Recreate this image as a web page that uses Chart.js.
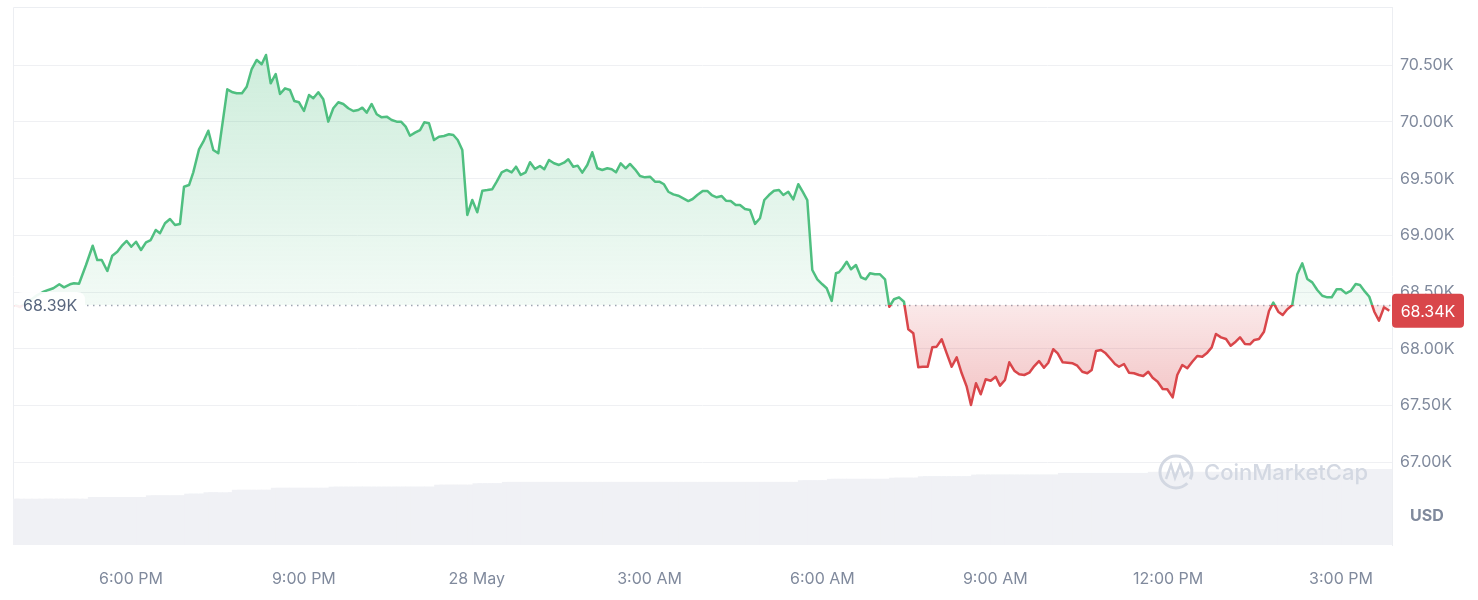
<!DOCTYPE html>
<html>
<head>
<meta charset="utf-8">
<title>BTC / USD</title>
<script src="https://cdn.jsdelivr.net/npm/chart.js@4.4.1/dist/chart.umd.min.js"></script>
<style>
body { margin: 0; background: #fff; }
#wrap { width: 1478px; height: 600px; position: relative; }
</style>
</head>
<body>
<div id="wrap"><canvas id="priceChart"></canvas></div>
<script>
// time of each point, hours since 27 May 00:00
var times = [
15.987,16.074,16.212,16.351,16.473,16.565,16.652,16.756,16.837,16.941,
17.011,17.098,17.219,17.335,17.415,17.492,17.589,17.675,17.762,17.839,
17.925,18.005,18.087,18.174,18.260,18.342,18.429,18.503,18.590,18.677,
18.764,18.850,18.920,19.007,19.081,19.180,19.255,19.342,19.428,19.515,
19.671,19.765,19.834,19.926,20.008,20.095,20.182,20.268,20.343,20.424,
20.511,20.586,20.673,20.759,20.834,20.916,21.002,21.089,21.164,21.251,
21.337,21.424,21.511,21.598,21.684,21.771,21.858,21.945,22.014,22.091,
22.177,22.264,22.351,22.438,22.524,22.611,22.686,22.767,22.842,22.929,
23.016,23.090,23.172,23.259,23.345,23.432,23.519,23.594,23.670,23.750,
23.836,23.923,24.010,24.097,24.184,24.270,24.347,24.434,24.520,24.607,
24.682,24.763,24.850,24.925,25.011,25.098,25.173,25.254,25.341,25.428,
25.515,25.589,25.676,25.752,25.832,25.919,26.006,26.093,26.179,26.266,
26.343,26.417,26.499,26.585,26.660,26.747,26.834,26.920,27.007,27.094,
27.169,27.250,27.325,27.412,27.498,27.585,27.672,27.748,27.828,27.922,
28.002,28.078,28.165,28.252,28.326,28.408,28.495,28.569,28.656,28.743,
28.830,28.916,28.991,29.072,29.159,29.246,29.321,29.407,29.494,29.581,
29.657,29.737,29.824,29.911,29.998,30.074,30.161,30.235,30.287,30.345,
30.421,30.496,30.582,30.669,30.751,30.825,30.912,30.999,31.086,31.160,
31.242,31.329,31.415,31.490,31.577,31.664,31.740,31.827,31.907,31.983,
32.070,32.157,32.243,32.330,32.417,32.504,32.578,32.665,32.747,32.833,
32.920,33.007,33.082,33.168,33.243,33.330,33.416,33.503,33.590,33.677,
33.758,33.845,33.920,34.006,34.083,34.170,34.256,34.343,34.423,34.510,
34.597,34.673,34.748,34.834,34.916,35.003,35.077,35.147,35.234,35.320,
35.407,35.494,35.568,35.655,35.731,35.818,35.905,35.985,36.079,36.158,
36.245,36.332,36.419,36.505,36.592,36.679,36.756,36.830,36.917,37.004,
37.085,37.172,37.247,37.333,37.420,37.495,37.576,37.663,37.750,37.825,
37.911,37.988,38.067,38.154,38.241,38.328,38.414,38.501,38.588,38.675,
38.762,38.838,38.925,39.000,39.086,39.168,39.255,39.329,39.416,39.491,
39.578,39.659,39.746,39.838
];

// BTC price, USD
var prices = [
68386,68369,68413,68466,68501,68519,68534,68569,68542,68569,
68578,68574,68739,68909,68783,68783,68686,68821,68856,68907,
68951,68900,68944,68871,68939,68959,69048,69019,69107,69145,
69092,69101,69429,69444,69556,69759,69826,69923,69753,69724,
70288,70262,70253,70253,70311,70467,70547,70509,70591,70341,
70423,70247,70297,70282,70185,70174,70097,70238,70209,70262,
70200,70003,70121,70174,70159,70121,70097,70106,70126,70082,
70159,70068,70041,70047,70018,70003,70003,69959,69879,69906,
69929,69997,69989,69841,69870,69877,69892,69885,69841,69753,
69180,69312,69204,69394,69400,69407,69474,69556,69577,69556,
69606,69533,69556,69645,69586,69612,69583,69665,69636,69621,
69641,69671,69606,69615,69553,69621,69733,69592,69577,69592,
69583,69556,69636,69592,69630,69583,69524,69512,69518,69474,
69474,69451,69385,69362,69350,69327,69303,69321,69356,69392,
69392,69356,69336,69347,69306,69303,69268,69268,69233,69224,
69101,69151,69312,69356,69394,69400,69356,69385,69318,69451,
69385,69312,68695,68613,68569,68534,68422,68666,68675,68710,
68768,68701,68739,68631,68613,68666,68657,68657,68613,68371,
68437,68454,68415,68172,68137,67837,67842,67842,68013,68019,
68084,67960,67842,67925,67784,67666,67504,67696,67599,67731,
67719,67754,67675,67725,67881,67807,67775,67769,67789,67848,
67892,67833,67877,67996,67960,67881,67877,67872,67851,67798,
67784,67813,67981,67989,67960,67910,67866,67842,67866,67789,
67784,67769,67760,67798,67745,67710,67646,67643,67572,67769,
67857,67828,67886,67937,67930,67966,68013,68131,68101,68086,
68027,68063,68101,68042,68040,68078,68086,68151,68333,68407,
68327,68298,68348,68386,68657,68754,68616,68586,68519,68468,
68454,68454,68525,68525,68489,68510,68571,68563,68504,68459,
68327,68248,68366,68336
];

// 24h volume, billions USD
var volumes = [
16.4,16.4,16.4,16.4,16.4,16.4,16.4,16.4,16.4,16.4,
16.4,16.4,16.4,17.0,17.0,17.0,17.0,17.0,17.0,17.0,
17.0,17.0,17.0,17.0,17.0,17.6,17.6,17.6,17.6,17.6,
17.6,17.6,17.6,18.2,18.2,18.2,18.2,18.7,18.7,18.7,
18.7,18.7,19.6,19.6,19.6,19.6,19.6,19.6,19.6,19.6,
20.3,20.3,20.3,20.3,20.3,20.3,20.3,20.3,20.3,20.3,
20.3,20.3,20.7,20.7,20.7,20.7,20.7,20.7,20.7,20.7,
20.7,20.7,20.7,20.7,20.7,20.7,20.7,20.7,20.7,20.7,
20.7,20.7,20.7,20.7,21.4,21.4,21.4,21.4,21.4,21.4,
21.4,21.4,21.9,21.9,21.9,21.9,21.9,21.9,22.4,22.4,
22.4,22.4,22.4,22.4,22.4,22.4,22.4,22.4,22.4,22.4,
22.4,22.4,22.4,22.4,22.4,22.4,22.4,22.4,22.4,22.4,
22.4,22.4,22.4,22.4,22.4,22.4,22.4,22.4,22.4,22.4,
22.4,22.4,22.4,22.4,22.4,22.4,22.4,22.4,22.4,22.4,
22.4,22.4,22.4,22.4,22.4,22.4,22.4,22.4,22.4,22.4,
22.4,22.4,22.4,22.4,22.4,22.4,22.4,22.4,22.4,22.4,
23.0,23.0,23.0,23.0,23.0,23.0,23.5,23.5,23.5,23.5,
23.5,23.5,23.5,23.5,23.5,23.5,23.5,23.5,23.5,23.5,
23.9,23.9,23.9,23.9,23.9,23.9,24.4,24.4,24.4,24.4,
24.4,24.4,24.4,24.4,24.4,24.4,24.4,25.0,25.0,25.0,
25.0,25.0,25.0,25.0,25.0,25.0,25.0,25.0,25.0,25.0,
25.0,25.0,25.0,25.0,25.0,25.6,25.6,25.6,25.6,25.6,
25.6,25.6,25.6,25.6,25.6,25.6,25.6,25.6,25.6,25.6,
25.6,25.6,25.6,25.6,26.0,26.0,26.0,26.0,26.0,26.0,
26.0,26.0,26.0,26.0,26.0,26.0,26.0,26.0,26.0,26.0,
26.0,26.0,26.0,26.0,26.0,26.0,27.0,27.0,27.0,27.0,
27.0,27.0,27.0,27.0,27.0,27.0,27.0,27.0,27.0,27.0,
27.0,27.0,27.0,27.0,27.0,27.0,27.0,27.0,27.0,27.0,
27.0,27.0,27.0,27.0
];

var tickHours = [18, 21, 24, 27, 30, 33, 36, 39];
var tickLabels = ['6:00 PM', '9:00 PM', '28 May', '3:00 AM', '6:00 AM', '9:00 AM', '12:00 PM', '3:00 PM'];
var priceTicks = [67000, 67500, 68000, 68500, 69000, 69500, 70000, 70500];
var openPrice = 68386;

var green = '#4fbf80';
var red = '#d9464a';
var textGrey = '#808a9d';

Chart.defaults.font.family = 'Inter, "Noto Sans", sans-serif';
Chart.defaults.font.size = 16;
Chart.defaults.color = textGrey;

function fmtK(v) {
    return (v / 1000).toFixed(2) + 'K';
}

// hard colour change at the open price
function lineColor(context) {
    var chart = context.chart;
    var area = chart.chartArea;
    if (!area) return green;
    var y = chart.scales.y.getPixelForValue(openPrice);
    var stop = (y - area.top) / (area.bottom - area.top);
    var g = chart.ctx.createLinearGradient(0, area.top, 0, area.bottom);
    g.addColorStop(0, green);
    g.addColorStop(stop, green);
    g.addColorStop(stop, red);
    g.addColorStop(1, red);
    return g;
}

function fillColor(context) {
    var chart = context.chart;
    var area = chart.chartArea;
    if (!area) return 'rgba(79,191,128,0.15)';
    var h = area.bottom - area.top;
    var stop = (chart.scales.y.getPixelForValue(openPrice) - area.top) / h;
    var stop2 = (chart.scales.y.getPixelForValue(67500) - area.top) / h;
    var g = chart.ctx.createLinearGradient(0, area.top, 0, area.bottom);
    g.addColorStop(0, 'rgba(79,191,128,0.32)');
    g.addColorStop(stop, 'rgba(79,191,128,0.07)');
    g.addColorStop(stop, 'rgba(217,70,74,0.12)');
    g.addColorStop(stop2, 'rgba(217,70,74,0.32)');
    g.addColorStop(1, 'rgba(217,70,74,0.4)');
    return g;
}

function roundBox(c, x, y, w, h, r) {
    c.beginPath();
    c.moveTo(x + r, y);
    c.lineTo(x + w - r, y);
    c.quadraticCurveTo(x + w, y, x + w, y + r);
    c.lineTo(x + w, y + h - r);
    c.quadraticCurveTo(x + w, y + h, x + w - r, y + h);
    c.lineTo(x + r, y + h);
    c.quadraticCurveTo(x, y + h, x, y + h - r);
    c.lineTo(x, y + r);
    c.quadraticCurveTo(x, y, x + r, y);
    c.closePath();
}

var overlay = {
    id: 'overlay',
    beforeDatasetsDraw: function(chart) {
        var c = chart.ctx, a = chart.chartArea;
        var yb = Math.round(chart.scales.y.getPixelForValue(openPrice)) + 0.5;
        c.save();
        // frame, top and left
        c.strokeStyle = '#eceef2';
        c.lineWidth = 1;
        c.beginPath();
        c.moveTo(a.left + 0.5, a.bottom);
        c.lineTo(a.left + 0.5, a.top + 0.5);
        c.lineTo(a.right, a.top + 0.5);
        c.stroke();
        // dotted open price line
        c.strokeStyle = '#9ea5b2';
        c.lineWidth = 1.5;
        c.setLineDash([1.5, 4.5]);
        c.beginPath();
        c.moveTo(a.left + 74, yb);
        c.lineTo(a.right, yb);
        c.stroke();
        c.restore();
    },
    afterDatasetsDraw: function(chart) {
        var c = chart.ctx, a = chart.chartArea;
        var yb = chart.scales.y.getPixelForValue(openPrice);
        var yl = chart.scales.y.getPixelForValue(prices[prices.length - 1]);
        c.save();
        // open price label
        c.fillStyle = 'rgba(255,255,255,0.92)';
        roundBox(c, a.left + 2, yb - 13, 70, 30, 8);
        c.fill();
        c.fillStyle = '#58667e';
        c.font = '16px Inter';
        c.textAlign = 'left';
        c.textBaseline = 'middle';
        c.fillText(fmtK(openPrice), a.left + 10, yb + 1.5);
        // last price badge
        c.fillStyle = red;
        roundBox(c, a.right, yl - 17, 72, 34, 4);
        c.fill();
        c.fillStyle = '#fff';
        c.textAlign = 'center';
        c.fillText(fmtK(prices[prices.length - 1]), a.right + 36, yl + 1);
        // currency
        c.fillStyle = textGrey;
        c.font = 'bold 16px Inter';
        c.textAlign = 'left';
        c.fillText('USD', a.right + 18, 516);
        // watermark
        c.strokeStyle = '#d3d8e2';
        c.fillStyle = '#d3d8e2';
        c.lineWidth = 3;
        c.beginPath();
        c.arc(1176, 472, 16, 0.25 * Math.PI, 2.15 * Math.PI);
        c.stroke();
        c.lineWidth = 2.5;
        c.beginPath();
        c.moveTo(1166, 479);
        c.lineTo(1171, 465);
        c.lineTo(1175, 478);
        c.lineTo(1180, 465);
        c.lineTo(1184, 476);
        c.lineTo(1189, 472);
        c.stroke();
        c.font = '500 22px Inter';
        c.fillText('CoinMarketCap', 1204, 473);
        c.restore();
    }
};

var ctx = document.getElementById('priceChart');
var priceChart = new Chart(ctx, {
    data: {
        datasets: [{
            type: 'line',
            label: 'Price',
            data: prices.map(function(p, i) { return { x: times[i], y: p }; }),
            borderColor: lineColor,
            backgroundColor: fillColor,
            borderWidth: 2.5,
            borderJoinStyle: 'round',
            pointRadius: 0,
            tension: 0,
            fill: { target: { value: openPrice } },
            yAxisID: 'y',
            order: 0
        }, {
            type: 'bar',
            label: 'Volume',
            data: volumes.map(function(v, i) { return { x: times[i], y: v }; }),
            backgroundColor: '#f0f1f5',
            barThickness: 9,
            yAxisID: 'yVol',
            order: 1
        }]
    },
    options: {
        responsive: true,
        maintainAspectRatio: false,
        animation: false,
        devicePixelRatio: 1,
        layout: { padding: { left: 13, top: 7, right: 0, bottom: 0 } },
        plugins: {
            legend: { display: false },
            tooltip: { enabled: false }
        },
        scales: {
            x: {
                type: 'linear',
                offset: false,
                min: 15.952,
                max: 39.885,
                grid: { display: false, offset: false },
                border: { display: false },
                ticks: {
                    padding: 17,
                    maxRotation: 0,
                    autoSkip: false,
                    callback: function(v) { return tickLabels[tickHours.indexOf(v)]; }
                },
                afterBuildTicks: function(s) {
                    s.ticks = tickHours.map(function(h) { return { value: h }; });
                },
                afterFit: function(s) {
                    s.height = 55;
                    s.paddingLeft = 0;
                    s.paddingRight = 0;
                }
            },
            y: {
                position: 'right',
                min: 66270,
                max: 71014,
                grid: { color: '#eff0f3', drawTicks: false, tickLength: 0 },
                border: { display: true, color: '#eceef2' },
                ticks: {
                    padding: 8,
                    callback: function(v) { return fmtK(v); }
                },
                afterBuildTicks: function(s) {
                    s.ticks = priceTicks.map(function(p) { return { value: p }; });
                },
                afterFit: function(s) {
                    s.width = 86;
                    s.paddingTop = 0;
                    s.paddingBottom = 0;
                }
            },
            yVol: {
                display: false,
                min: 0,
                max: 192
            }
        }
    },
    plugins: [overlay]
});
</script>
</body>
</html>
